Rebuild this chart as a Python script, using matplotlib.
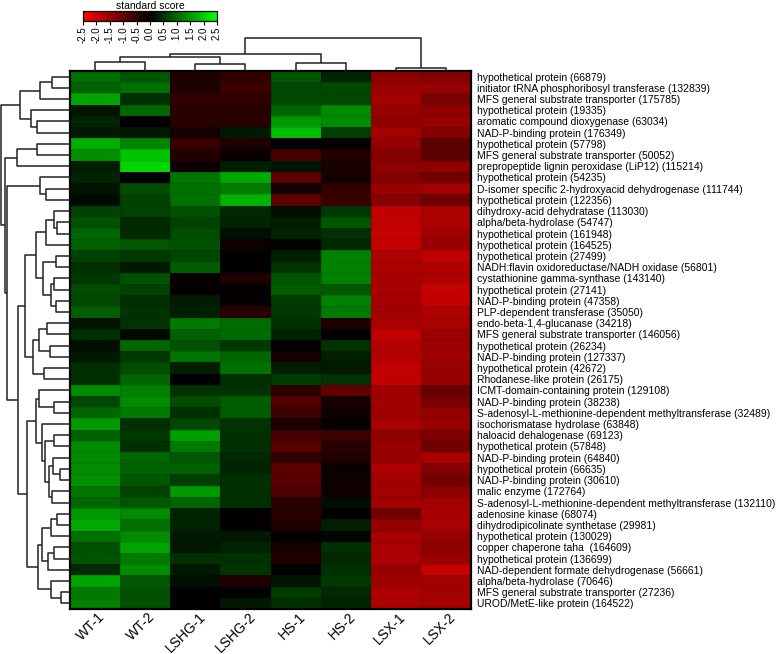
import numpy as np
import matplotlib
matplotlib.use('Agg')
import matplotlib.pyplot as plt
from matplotlib.colors import LinearSegmentedColormap, Normalize
from matplotlib.collections import LineCollection
from matplotlib.transforms import ScaledTranslation
import matplotlib.cm as cm

plt.rcParams['font.family'] = ['Liberation Sans', 'DejaVu Sans']
plt.rcParams['axes.unicode_minus'] = False

samples = ['WT-1', 'WT-2', 'LSHG-1', 'LSHG-2', 'HS-1', 'HS-2', 'LSX-1', 'LSX-2']

genes = [
    'hypothetical protein (66879)',
    'initiator tRNA phosphoribosyl transferase (132839)',
    'MFS general substrate transporter (175785)',
    'hypothetical protein (19335)',
    'aromatic compound dioxygenase (63034)',
    'NAD-P-binding protein (176349)',
    'hypothetical protein (57798)',
    'MFS general substrate transporter (50052)',
    'prepropeptide lignin peroxidase (LiP12) (115214)',
    'hypothetical protein (54235)',
    'D-isomer specific 2-hydroxyacid dehydrogenase (111744)',
    'hypothetical protein (122356)',
    'dihydroxy-acid dehydratase (113030)',
    'alpha/beta-hydrolase (54747)',
    'hypothetical protein (161948)',
    'hypothetical protein (164525)',
    'hypothetical protein (27499)',
    'NADH:flavin oxidoreductase/NADH oxidase (56801)',
    'cystathionine gamma-synthase (143140)',
    'hypothetical protein (27141)',
    'NAD-P-binding protein (47358)',
    'PLP-dependent transferase (35050)',
    'endo-beta-1,4-glucanase (34218)',
    'MFS general substrate transporter (146056)',
    'hypothetical protein (26234)',
    'NAD-P-binding protein (127337)',
    'hypothetical protein (42672)',
    'Rhodanese-like protein (26175)',
    'ICMT-domain-containing protein (129108)',
    'NAD-P-binding protein (38238)',
    'S-adenosyl-L-methionine-dependent methyltransferase (32489)',
    'isochorismatase hydrolase (63848)',
    'haloacid dehalogenase (69123)',
    'hypothetical protein (57848)',
    'NAD-P-binding protein (64840)',
    'hypothetical protein (66635)',
    'NAD-P-binding protein (30610)',
    'malic enzyme (172764)',
    'S-adenosyl-L-methionine-dependent methyltransferase (132110)',
    'adenosine kinase (68074)',
    'dihydrodipicolinate synthetase (29981)',
    'hypothetical protein (130029)',
    'copper chaperone taha  (164609)',
    'hypothetical protein (136699)',
    'NAD-dependent formate dehydrogenase (56661)',
    'alpha/beta-hydrolase (70646)',
    'MFS general substrate transporter (27236)',
    'UROD/MetE-like protein (164522)',
]

wt1 = [1.1, 0.95, 1.6, 0.2, 0.35, 0.25, 1.7, 1.4, 0.3, 0.35, 0.2, 0.1, 0.65, 0.8, 1.0, 0.95,
       0.65, 0.45, 0.55, 0.75, 0.7, 0.9, 0.2, 0.45, 0.15, 0.25, 0.45, 0.45, 1.35, 0.7, 1.0, 1.5,
       0.95, 1.35, 1.35, 1.35, 1.4, 1.15, 1.0, 1.5, 1.65, 1.1, 0.8, 0.82, 0.42, 1.6, 1.2, 1.25]
wt2 = [0.85, 1.1, 0.45, 1.0, 0.0, 0.25, 1.3, 1.9, 2.1, 0.0, 0.75, 0.65, 0.65, 0.4, 0.4, 0.85,
       0.55, 0.25, 0.8, 0.65, 0.45, 0.5, 0.5, 0.1, 1.0, 0.55, 0.75, 1.0, 1.25, 1.35, 1.2, 0.45,
       0.55, 0.45, 1.0, 0.95, 0.85, 0.65, 0.85, 1.35, 1.1, 1.35, 1.6, 1.2, 1.38, 0.85, 0.8, 0.8]
lshg1 = [-0.3, -0.3, -0.45, -0.4, -0.4, -0.2, -0.55, -0.35, -0.15, 1.15, 1.1, 1.1, 0.8, 0.65, 0.75, 0.8,
         0.7, 0.9, -0.05, -0.05, 0.28, 0.3, 1.2, 0.95, 0.8, 1.15, 0.3, 0.0, 0.5, 0.75, 0.45, 0.7,
         1.55, 1.2, 0.85, 0.95, 0.6, 1.5, 1.0, 0.35, 0.35, 0.25, 0.25, 0.45, 0.22, 0.15, 0.0, 0.0]
lshg2 = [-0.5, -0.6, -0.45, -0.4, -0.4, 0.25, -0.3, -0.1, 0.3, 1.65, 1.2, 1.75, 0.4, 0.35, 0.15, -0.15,
         0.0, 0.0, -0.3, 0.0, -0.05, -0.4, 1.05, 1.05, 0.55, 1.0, 1.1, 0.45, 0.5, 0.9, 0.9, 0.5,
         0.45, 0.45, 0.4, 0.35, 0.45, 0.45, 0.45, 0.0, 0.0, 0.25, 0.35, 0.48, 0.52, -0.3, 0.0, 0.25]
hs1 = [0.85, 0.7, 0.7, 1.0, 1.5, 1.85, -0.05, -0.7, 0.2, -0.9, -0.2, -0.9, 0.15, 0.3, 0.35, 0.05,
       0.3, 0.5, 0.85, 0.9, 0.58, 0.55, 0.45, 0.35, 0.0, -0.2, 0.3, 0.6, -0.45, -0.8, -0.6, -0.3,
       -0.68, -0.85, -0.45, -0.9, -0.85, -0.75, -0.4, -0.4, -0.35, -0.05, -0.25, -0.32, 0.0, 0.2, 0.6, 0.45]
hs2 = [0.35, 0.7, 0.7, 1.35, 1.35, 0.6, -0.05, -0.35, -0.25, -0.2, -0.5, -0.55, 0.55, 0.85, 0.45, 0.4,
       1.25, 1.25, 1.25, 0.85, 1.25, 1.2, -0.3, 0.0, 0.5, 0.3, 0.25, 0.5, -0.95, -0.25, -0.15, -0.05,
       -0.6, -0.4, -0.35, -0.1, -0.15, -0.15, 0.15, -0.05, 0.3, 0.05, 0.45, 0.4, 0.45, 0.55, 0.4, 0.35]
lsx1 = [-1.4, -1.5, -1.6, -1.5, -1.4, -1.6, -1.45, -1.3, -1.4, -1.3, -1.5, -1.3, -1.9, -1.9, -1.95, -1.9,
        -1.7, -1.65, -1.65, -1.65, -1.62, -1.6, -1.65, -1.9, -1.75, -1.75, -1.9, -1.9, -1.55, -1.6, -1.55, -1.65,
        -1.42, -1.5, -1.5, -1.7, -1.6, -1.6, -1.6, -1.1, -1.45, -1.65, -1.65, -1.68, -1.5, -1.55, -1.7, -1.7]
lsx2 = [-1.3, -1.5, -1.2, -1.4, -1.5, -1.3, -0.9, -0.9, -1.4, -1.1, -1.6, -1.1, -1.7, -1.7, -1.55, -1.5,
        -1.85, -1.7, -1.7, -1.95, -1.9, -1.7, -1.65, -1.5, -1.55, -1.55, -1.5, -1.5, -1.0, -1.2, -1.45, -1.5,
        -1.22, -1.1, -1.65, -1.3, -1.15, -1.35, -1.6, -1.65, -1.65, -1.45, -1.4, -1.52, -1.95, -1.6, -1.6, -1.65]

# hierarchical clustering trees (scipy-like linkage: child a, child b, merge height)
row_linkage = [
    (0, 1, 18.3), (48, 2, 30.0), (4, 5, 32.7), (3, 50, 39.3), (49, 51, 50.0),
    (6, 7, 32.7), (53, 8, 53.3),
    (10, 11, 24.3), (9, 55, 30.0),
    (13, 14, 12.7), (12, 57, 16.0), (58, 15, 24.0), (16, 17, 14.3), (18, 19, 16.0),
    (20, 21, 14.3), (61, 62, 19.3), (60, 63, 26.7), (59, 64, 34.0),
    (22, 23, 23.3), (24, 25, 20.0), (66, 67, 30.7), (26, 27, 26.0), (68, 69, 36.7),
    (65, 70, 45.0),
    (29, 30, 15.7), (28, 72, 30.7), (32, 33, 15.7), (35, 36, 10.0), (34, 75, 16.7),
    (37, 38, 18.3), (76, 77, 20.7), (74, 78, 25.0), (31, 79, 28.3), (73, 80, 34.0),
    (39, 40, 13.3), (82, 41, 19.3), (42, 43, 16.0), (84, 44, 21.7), (83, 85, 28.3),
    (46, 47, 9.3), (45, 87, 19.3), (86, 88, 31.7),
    (81, 89, 42.7), (71, 90, 51.7), (56, 91, 62.7), (54, 92, 65.3), (52, 93, 69.0),
]
col_linkage = [
    (0, 1, 8.7), (2, 3, 6.7), (4, 5, 7.7), (6, 7, 3.3),
    (8, 9, 14.3), (12, 10, 17.0), (13, 11, 33.0),
]

data = np.array([wt1, wt2, lshg1, lshg2, hs1, hs2, lsx1, lsx2]).T
n_rows, n_cols = data.shape

W, H = 777, 654
fig = plt.figure(figsize=(W / 100, H / 100), dpi=100)


def box(x0, y0, x1, y1):
    return [x0 / W, 1 - y1 / H, (x1 - x0) / W, (y1 - y0) / H]


cmap = LinearSegmentedColormap.from_list('rkg', [(1, 0, 0), (0, 0, 0), (0, 1, 0)])
norm = Normalize(-2.5, 2.5)

# heatmap
ax = fig.add_axes(box(70, 71, 471, 609))
ax.pcolormesh(np.arange(n_cols + 1), np.arange(n_rows + 1), data, cmap=cmap, norm=norm,
              edgecolors=(0, 0, 0, 0.12), linewidth=0.4)
ax.set_xlim(0, n_cols)
ax.set_ylim(n_rows, 0)
for s in ax.spines.values():
    s.set_linewidth(1.6)
ax.yaxis.tick_right()
ax.set_yticks(np.arange(n_rows) + 0.5)
ax.set_yticklabels(genes, fontsize=7.5)
ax.tick_params(axis='y', length=0, pad=4.5)
ax.set_xticks(np.arange(n_cols) + 0.5)
ax.set_xticklabels(samples, fontsize=10, rotation=45, ha='right', rotation_mode='anchor')
ax.tick_params(axis='x', length=0, pad=0.5)
for lbl in ax.get_xticklabels():
    lbl.set_transform(lbl.get_transform() + ScaledTranslation(0.03, 0.0, fig.dpi_scale_trans))


def dendro_segments(linkage, n):
    pos = {i: i + 0.5 for i in range(n)}
    hgt = {i: 0.0 for i in range(n)}
    segs = []
    for k, (a, b, h) in enumerate(linkage):
        pa, pb = pos[a], pos[b]
        segs.append([(pa, hgt[a]), (pa, h), (pb, h), (pb, hgt[b])])
        pos[n + k] = (pa + pb) / 2
        hgt[n + k] = h
    return segs


# row dendrogram
axr = fig.add_axes(box(0, 71, 70, 609))
rsegs = [[(h, p) for (p, h) in seg] for seg in dendro_segments(row_linkage, n_rows)]
axr.add_collection(LineCollection(rsegs, colors='#222222', linewidths=1.1, clip_on=False))
axr.set_xlim(70, 0)
axr.set_ylim(n_rows, 0)
axr.axis('off')

# column dendrogram
axc = fig.add_axes(box(70, 38, 471, 71))
csegs = dendro_segments(col_linkage, n_cols)
axc.add_collection(LineCollection(csegs, colors='#222222', linewidths=1.1, clip_on=False))
axc.set_xlim(0, n_cols)
axc.set_ylim(0, 33)
axc.axis('off')

# colour bar
cax = fig.add_axes(box(83, 11, 217, 21))
ticks = np.arange(-2.5, 2.51, 0.5)
cb = fig.colorbar(cm.ScalarMappable(norm=norm, cmap=cmap), cax=cax, orientation='horizontal', ticks=ticks)
cb.ax.set_xticklabels([f'{t:.1f}' for t in ticks], rotation=90, fontsize=7)
cb.ax.tick_params(length=3, width=0.8, pad=1)
cb.outline.set_linewidth(0.9)
cax.set_title('standard score', fontsize=7.5, pad=1.5)

fig.savefig('out.png', dpi=100)
